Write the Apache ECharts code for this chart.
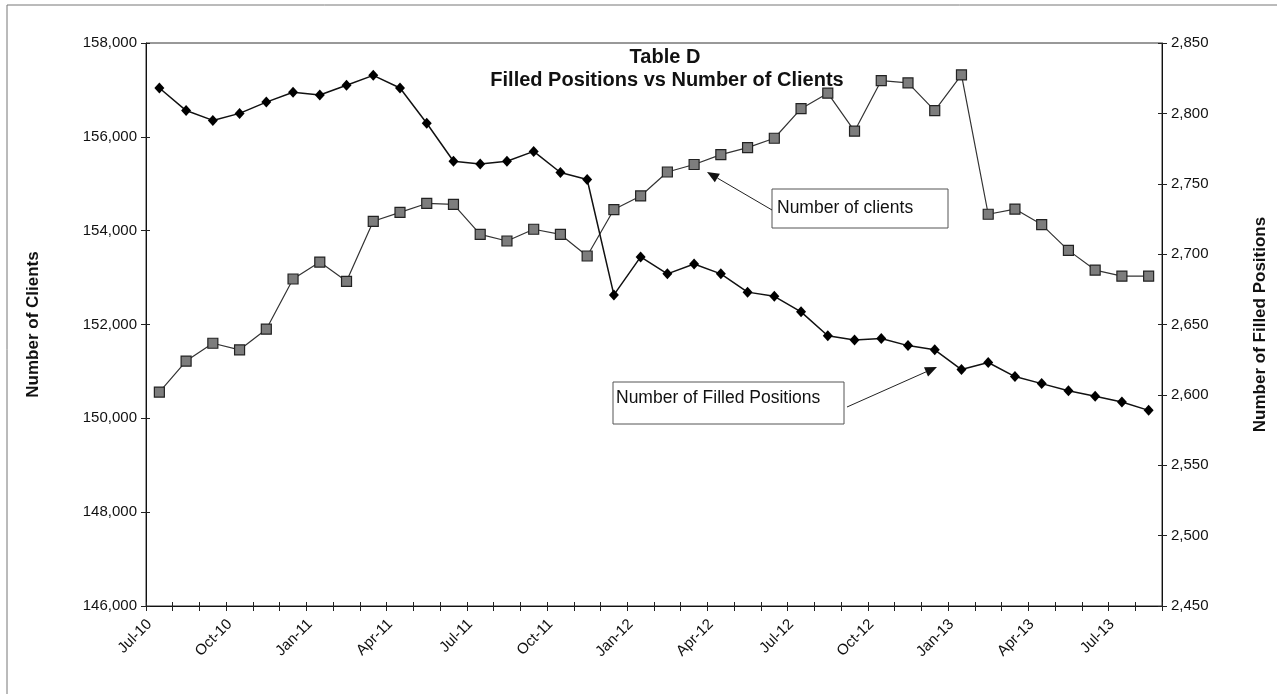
<!DOCTYPE html>
<html>
<head>
<meta charset="utf-8">
<script src="https://cdn.jsdelivr.net/npm/echarts@6.0.0/dist/echarts.min.js"></script>
<style>
html,body{margin:0;padding:0;background:#fff;}
#c{width:1277px;height:694px;}
</style>
</head>
<body>
<div id="c"></div>
<script>
// ---- Data ----
const categories = [
  'Jul-10','Aug-10','Sep-10','Oct-10','Nov-10','Dec-10',
  'Jan-11','Feb-11','Mar-11','Apr-11','May-11','Jun-11',
  'Jul-11','Aug-11','Sep-11','Oct-11','Nov-11','Dec-11',
  'Jan-12','Feb-12','Mar-12','Apr-12','May-12','Jun-12',
  'Jul-12','Aug-12','Sep-12','Oct-12','Nov-12','Dec-12',
  'Jan-13','Feb-13','Mar-13','Apr-13','May-13','Jun-13',
  'Jul-13','Aug-13'
];
// Number of clients (left axis, square markers)
const clients = [
  150560, 151220, 151600, 151460, 151900, 152970,
  153330, 152920, 154200, 154390, 154580, 154560,
  153920, 153780, 154030, 153920, 153460, 154450,
  154740, 155250, 155410, 155620, 155770, 155970,
  156600, 156930, 156120, 157200, 157150, 156560,
  157320, 154350, 154460, 154130, 153580, 153160,
  153030, 153030
];
// Number of filled positions (right axis, diamond markers)
const filledPositions = [
  2818, 2802, 2795, 2800, 2808, 2815,
  2813, 2820, 2827, 2818, 2793, 2766,
  2764, 2766, 2773, 2758, 2753, 2671,
  2698, 2686, 2693, 2686, 2673, 2670,
  2659, 2642, 2639, 2640, 2635, 2632,
  2618, 2623, 2613, 2608, 2603, 2599,
  2595, 2589
];
const leftAxisRange = [146000, 158000, 2000];
const rightAxisRange = [2450, 2850, 50];
const titleLines = ['Table D', 'Filled Positions vs Number of Clients'];
const leftAxisName = 'Number of Clients';
const rightAxisName = 'Number of Filled Positions';
const noteClients = 'Number of clients';
const noteFilled = 'Number of Filled Positions';

// ---- Chart ----
const FONT = '"Liberation Sans", Arial, sans-serif';
const chart = echarts.init(document.getElementById('c'), null, {renderer: 'canvas'});
const fmt = v => v.toLocaleString('en-US');

function arrow(x1, y1, x2, y2) {
  const dx = x2 - x1, dy = y2 - y1, L = Math.hypot(dx, dy);
  const ux = dx / L, uy = dy / L, px = -uy, py = ux;
  const hl = 12, hw = 5;
  const bx = x2 - ux * hl, by = y2 - uy * hl;
  return [
    {type: 'line', shape: {x1, y1, x2: bx, y2: by}, style: {stroke: '#222', lineWidth: 1}},
    {type: 'polygon', shape: {points: [[x2, y2], [bx + px * hw, by + py * hw], [bx - px * hw, by - py * hw]]},
     style: {fill: '#111'}}
  ];
}

function valAxis(pos, range, opts) {
  return Object.assign({
    type: 'value', position: pos, min: range[0], max: range[1], interval: range[2],
    splitLine: {show: false},
    axisLine: {show: true, onZero: false, lineStyle: {color: '#111', width: 1}},
    axisTick: {show: true, inside: false, length: 5, lineStyle: {color: '#222'}},
    axisLabel: {show: true, color: '#111', fontFamily: FONT, fontSize: 15, formatter: fmt, margin: 9}
  }, opts);
}

const option = {
  animation: false,
  backgroundColor: '#fff',
  grid: {left: 146, right: 111, top: 43, bottom: 88, show: true, borderColor: '#333', borderWidth: 1},
  xAxis: [
    {
      type: 'category', position: 'bottom', data: categories, boundaryGap: true,
      axisLine: {show: true, onZero: false, lineStyle: {color: '#111'}},
      axisTick: {show: true, interval: 0, length: 5, lineStyle: {color: '#222'}},
      axisLabel: {interval: 2, rotate: 45, fontFamily: FONT, fontSize: 15, color: '#111', margin: 6,
        padding: [0, 14, 0, 0]}
    },
    {
      type: 'category', position: 'bottom', data: categories, boundaryGap: true,
      axisLine: {show: false},
      axisTick: {show: true, inside: true, interval: 0, length: 4, lineStyle: {color: '#222'}},
      axisLabel: {show: false}
    }
  ],
  yAxis: [
    valAxis('left', leftAxisRange, {
      name: leftAxisName, nameLocation: 'middle', nameGap: 104, nameRotate: 90,
      nameTextStyle: {fontFamily: FONT, fontSize: 17, fontWeight: 'bold', color: '#111'}
    }),
    valAxis('right', rightAxisRange, {
      name: rightAxisName, nameLocation: 'middle', nameGap: 90, nameRotate: 90,
      nameTextStyle: {fontFamily: FONT, fontSize: 17, fontWeight: 'bold', color: '#111'}
    }),
    valAxis('left', leftAxisRange, {axisLine: {show: false}, axisLabel: {show: false},
      axisTick: {show: true, inside: true, length: 4, lineStyle: {color: '#222'}}}),
    valAxis('right', rightAxisRange, {axisLine: {show: false}, axisLabel: {show: false},
      axisTick: {show: true, inside: true, length: 4, lineStyle: {color: '#222'}}})
  ],
  series: [
    {
      name: 'Number of clients', type: 'line', xAxisIndex: 0, yAxisIndex: 0, data: clients,
      symbol: 'rect', symbolSize: 10, showAllSymbol: true,
      lineStyle: {color: '#333', width: 1.2},
      itemStyle: {color: '#7d7d7d', borderColor: '#222', borderWidth: 1.2},
      z: 3
    },
    {
      name: 'Number of Filled Positions', type: 'line', xAxisIndex: 0, yAxisIndex: 1, data: filledPositions,
      symbol: 'diamond', symbolSize: [10, 11], showAllSymbol: true,
      lineStyle: {color: '#111', width: 1.5},
      itemStyle: {color: '#000'},
      z: 4
    }
  ],
  graphic: [
    // outer chart border (top and left edges visible)
    {type: 'line', shape: {x1: 7, y1: 5, x2: 1277, y2: 5}, style: {stroke: '#777', lineWidth: 1}},
    {type: 'line', shape: {x1: 7, y1: 5, x2: 7, y2: 694}, style: {stroke: '#777', lineWidth: 1}},
    // title
    {type: 'text', z: 10, style: {text: titleLines[0], x: 665, y: 57, align: 'center', verticalAlign: 'middle',
      font: 'bold 20px ' + FONT, fill: '#111'}},
    {type: 'text', z: 10, style: {text: titleLines[1], x: 667, y: 80, align: 'center', verticalAlign: 'middle',
      font: 'bold 20px ' + FONT, fill: '#111'}},
    // annotation: clients
    {type: 'rect', z: 10, shape: {x: 772, y: 189, width: 176, height: 39},
      style: {fill: '#fff', stroke: '#555', lineWidth: 1}},
    {type: 'text', z: 11, style: {text: noteClients, x: 777, y: 208, verticalAlign: 'middle',
      font: '17.5px ' + FONT, fill: '#111'}},
    ...arrow(772, 210, 707, 172).map(o => Object.assign(o, {z: 10})),
    // annotation: filled positions
    {type: 'rect', z: 10, shape: {x: 613, y: 382, width: 231, height: 42},
      style: {fill: '#fff', stroke: '#555', lineWidth: 1}},
    {type: 'text', z: 11, style: {text: noteFilled, x: 616, y: 398, verticalAlign: 'middle',
      font: '17.5px ' + FONT, fill: '#111'}},
    ...arrow(847, 407, 937, 367).map(o => Object.assign(o, {z: 10}))
  ]
};
chart.setOption(option);
</script>
</body>
</html>
